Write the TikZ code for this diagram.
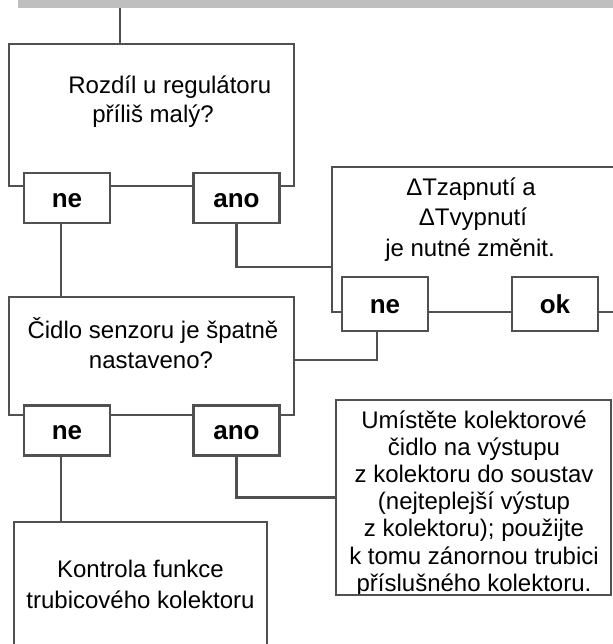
\documentclass[tikz,border=0pt]{standalone}
\usepackage{fontspec}
\setmainfont{Liberation Sans}
\usetikzlibrary{positioning}
\definecolor{linegray}{HTML}{505050}
\definecolor{bargray}{HTML}{BFBFBF}
\tikzset{
  bigbox/.style={draw=linegray,line width=1.3pt,fill=white,inner sep=0pt,
                 outer sep=0pt,anchor=north west},
  answer/.style={draw=linegray,line width=1.3pt,fill=white,inner sep=0pt,
                 outer sep=0pt,minimum width=43pt,minimum height=25pt,
                 text height=9pt,text depth=0pt,
                 font=\bfseries\fontsize{13}{15}\selectfont},
  txtline/.style={font=\fontsize{12}{14}\selectfont,inner sep=0pt,anchor=base},
  wire/.style={draw=linegray,line width=1.3pt}
}

\begin{document}
\begin{tikzpicture}[x=0.5pt,y=-0.5pt]
\useasboundingbox (0,0) rectangle (613,644);
\clip (0,0) rectangle (613,644);
% Grey bar at the top
\node [fill=bargray,inner sep=0pt,minimum width=300pt,minimum height=8pt,
       anchor=south west] (bar) at (18,8) {};
% Question boxes and hint boxes
\node [bigbox,minimum width=142.5pt,minimum height=71pt] (q1) at (9,44) {};
\node [bigbox,minimum width=142.5pt,minimum height=59pt] (q2) at (9,297) {};
\node [bigbox,minimum width=165pt,minimum height=72.5pt] (dt) at (332,167) {};
\node [bigbox,minimum width=137.5pt,minimum height=97.5pt] (ub) at (336,400) {};
\node [bigbox,minimum width=126.5pt,minimum height=79pt] (kb) at (14,522) {};
% Answers sitting on the lower edges
\node [answer] (ne1) at (67,198) {ne};
\node [answer] (ano1) at (236.5,198) {ano};
\node [answer,minimum height=27pt] (ne2) at (385,304) {ne};
\node [answer,minimum height=27pt] (ok) at (555,304) {ok};
\node [answer] (ne3) at (67,430.5) {ne};
\node [answer] (ano3) at (236.5,430.5) {ano};
% Texts of the boxes
\node [txtline,anchor=base west] (t1a) at (68,93) {Rozdíl u regulátoru};
\node [txtline,anchor=base west] (t1b) at (92,122) {příliš malý?};
\node [txtline] (t2a) at (153,338) {Čidlo senzoru je špatně};
\node [txtline] (t2b) at (151,368) {nastaveno?};
\node [txtline] (t3a) at (471,195) {ΔTzapnutí a};
\node [txtline] (t3b) at (473,225) {ΔTvypnutí};
\node [txtline] (t3c) at (470,256) {je nutné změnit.};
\node [txtline] (t4a) at (140.5,577) {Kontrola funkce};
\node [txtline] (t4b) at (140.5,608) {trubicového kolektoru};
\begin{scope}
\clip (ub.north west) rectangle ([yshift=0.65pt]ub.south east);
\foreach \txt [count=\i] in {{Umístěte kolektorové},{čidlo na výstupu},
    {z kolektoru do soustav},{(nejteplejší výstup},{z kolektoru); použijte},
    {k tomu zánornou trubici},{příslušného kolektoru.}}
  \node [txtline] (u\i) at (474,{428+27.2*(\i-1)}) {\txt};
\end{scope}
% Connectors
\coordinate (t0) at (120,0);
\draw [wire] (bar.south -| t0) -- (t0 |- q1.north);
\coordinate (c1) at ([xshift=-3pt]ne1.south);
\draw [wire] (c1) -- (c1 |- q2.north);
\coordinate (j1) at (333,267);
\draw [wire] (ano1.south) |- (j1);
\coordinate (c2) at ([xshift=-4pt]ne2.south);
\draw [wire] (c2) |- ([yshift=-2pt]q2.east);
\coordinate (c3) at ([xshift=-3pt]ne3.south);
\draw [wire] (c3) -- (c3 |- kb.north);
\draw [wire] (ano3.south) |- (ub.west);
\end{tikzpicture}
\end{document}
